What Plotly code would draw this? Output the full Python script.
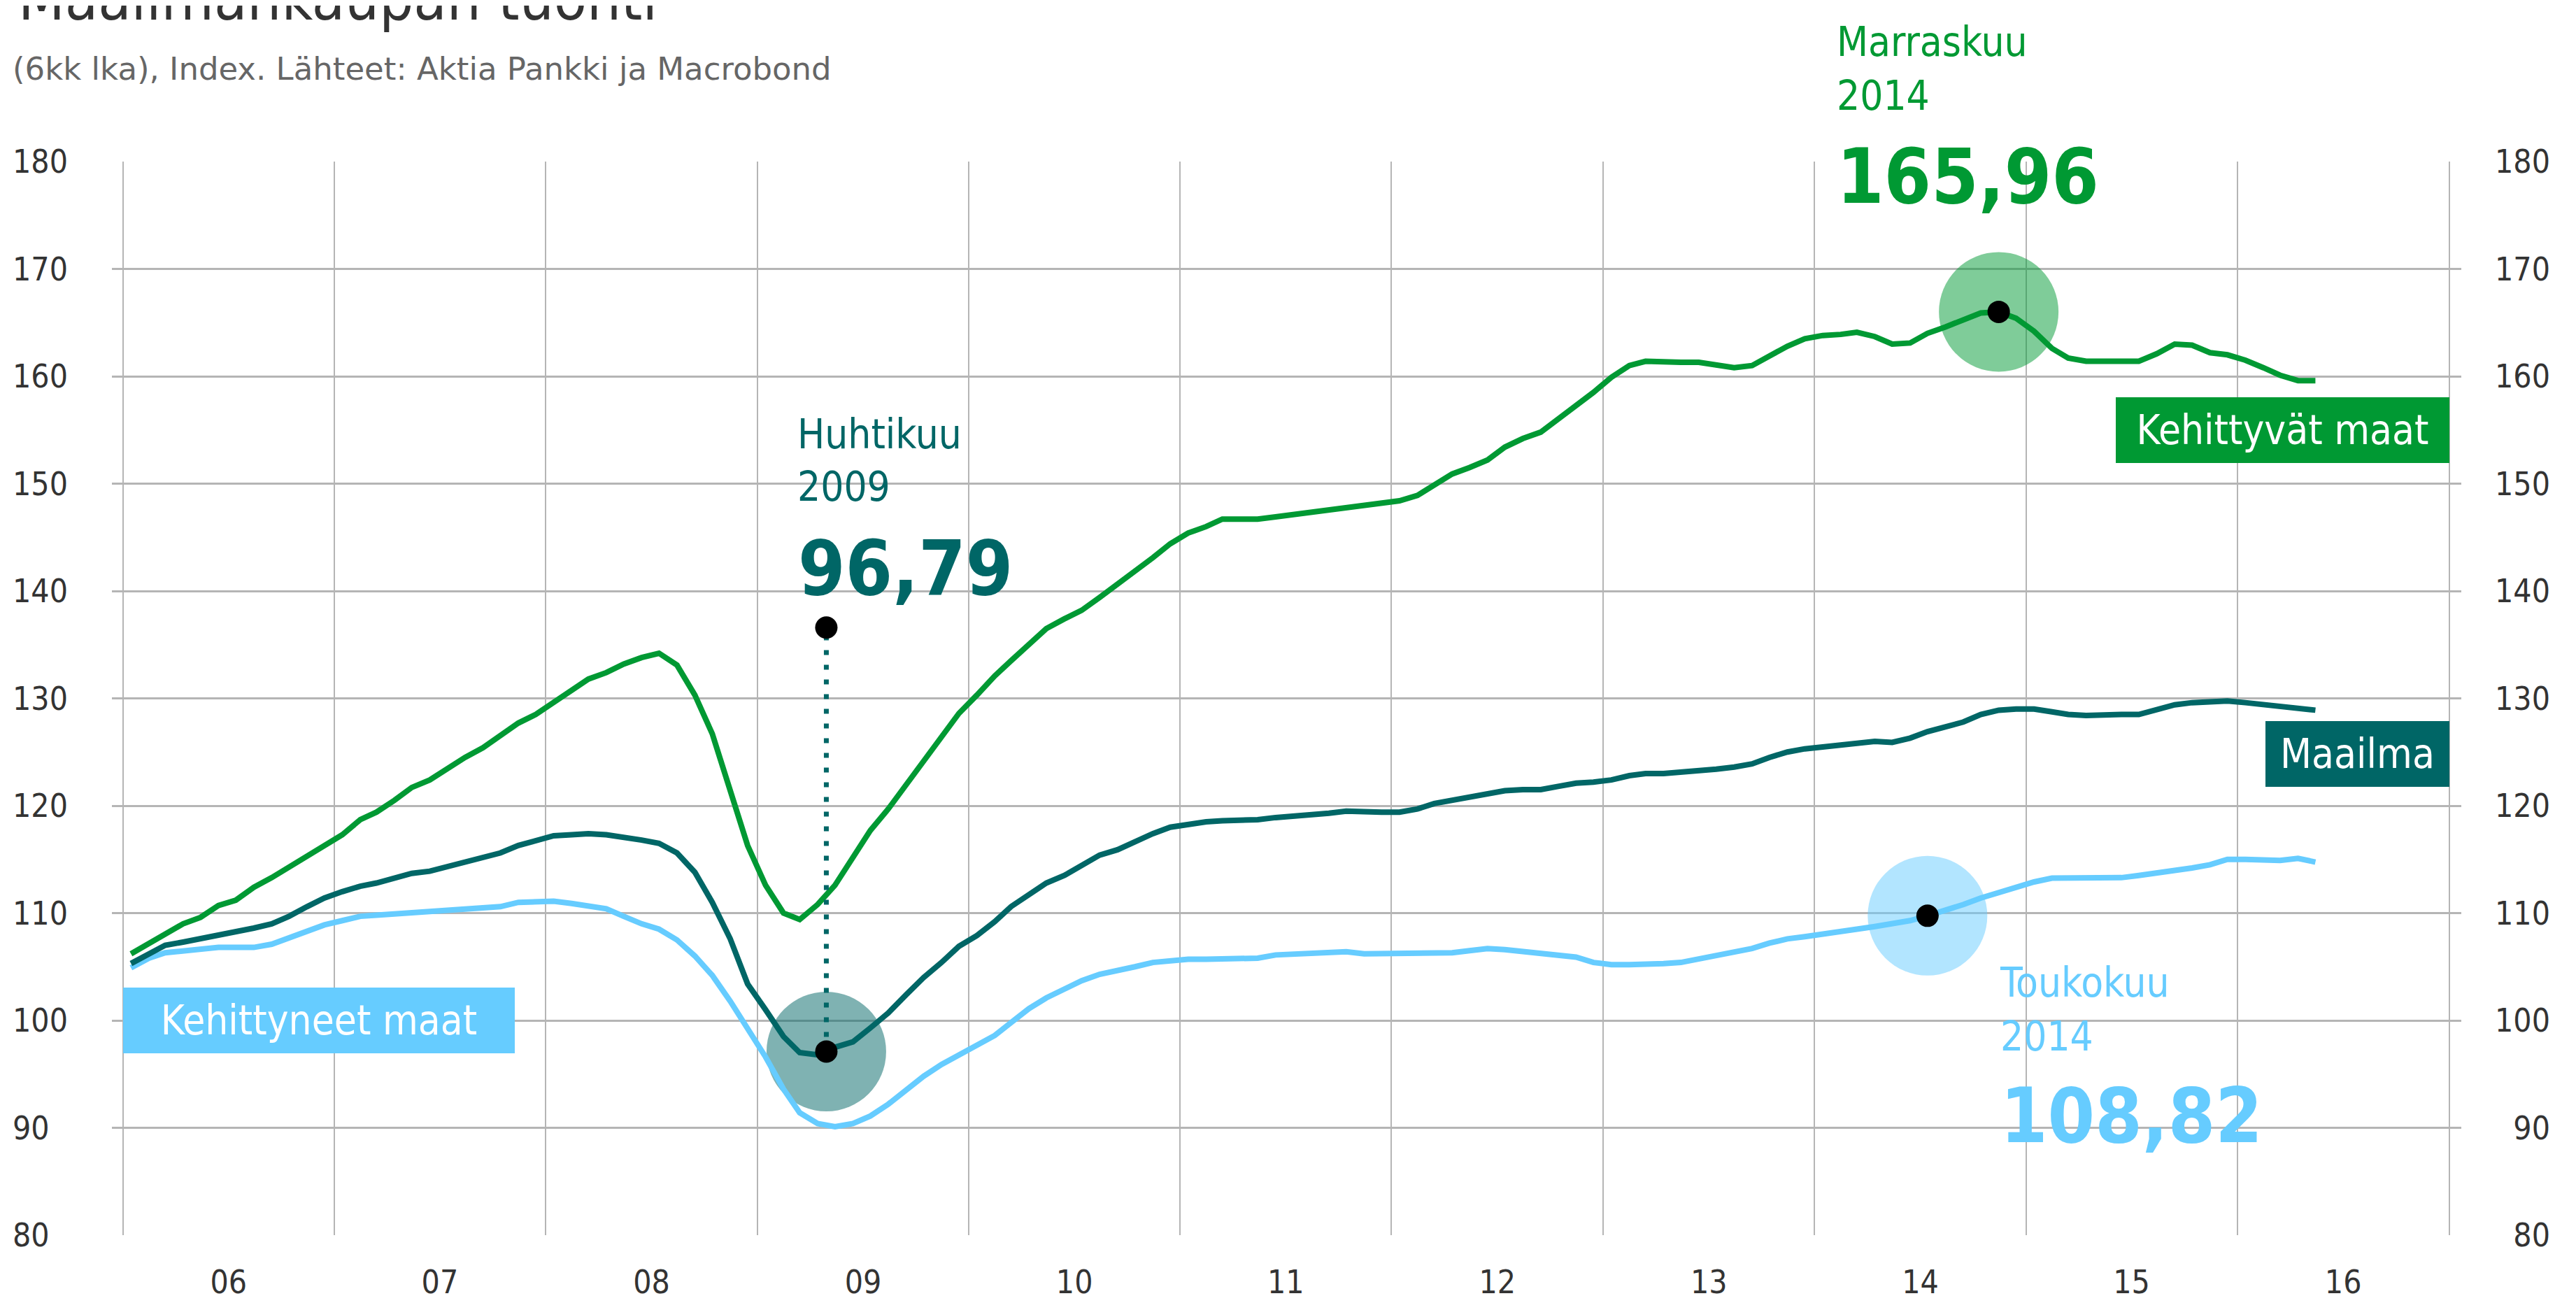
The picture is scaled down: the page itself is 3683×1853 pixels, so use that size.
import plotly.graph_objects as go
import pandas as pd

# monthly index values, Jan 2006 - May 2016 (6 month moving average)
months = pd.date_range("2006-01-01", periods=125, freq="MS") + pd.Timedelta(days=14)

kehittyvat = [
    106.2, 107.2, 108.0, 109.0, 109.6, 110.7, 111.2, 112.4, 113.3, 114.3, 115.4, 116.3,
    117.3, 118.7, 119.4, 120.5, 121.7, 122.4, 123.5, 124.5, 125.4, 126.5, 127.7, 128.5,
    129.6, 130.8, 131.8, 132.4, 133.2, 133.8, 134.2, 133.1, 130.3, 126.7, 121.3, 116.3,
    112.6, 110.0, 109.4, 110.8, 112.6, 115.1, 117.7, 119.7, 122.0, 124.2, 126.4, 128.6,
    130.3, 132.1, 133.5, 135.1, 136.5, 137.4, 138.2, 139.4, 140.6, 141.9, 143.1, 144.4,
    145.4, 146.0, 146.7, 146.7, 146.7, 146.9, 147.1, 147.4, 147.5, 147.8, 148.0, 148.2,
    148.4, 148.9, 149.9, 150.9, 151.5, 152.2, 153.4, 154.2, 154.8, 156.0, 157.4, 158.5,
    159.9, 161.0, 161.4, 161.3, 161.3, 161.3, 161.0, 160.8, 161.0, 161.9, 162.8, 163.5,
    163.8, 163.9, 164.1, 163.7, 163.0, 163.1, 164.0, 164.6, 165.3, 165.9, 166.0, 165.4,
    164.2, 162.6, 161.7, 161.4, 161.4, 161.4, 161.4, 162.1, 163.0, 162.9, 162.2, 162.0,
    161.5, 160.8, 160.1, 159.6, 159.6,
]

maailma = [
    105.3, 106.2, 107.0, 107.3, 107.6, 107.9, 108.3, 108.6, 109.0, 109.7, 110.6, 111.4,
    112.0, 112.5, 112.8, 113.2, 113.7, 113.9, 114.3, 114.7, 115.1, 115.6, 116.3, 116.8,
    117.2, 117.3, 117.4, 117.3, 117.1, 116.8, 116.5, 115.6, 113.8, 111.0, 107.6, 103.4,
    101.0, 98.5, 97.0, 96.8, 97.5, 98.0, 99.3, 100.7, 102.4, 104.0, 105.4, 106.9,
    107.9, 109.2, 110.6, 111.7, 112.8, 113.5, 114.4, 115.4, 115.9, 116.7, 117.4, 118.0,
    118.3, 118.5, 118.6, 118.6, 118.7, 118.9, 119.0, 119.2, 119.3, 119.5, 119.4, 119.4,
    119.4, 119.7, 120.2, 120.5, 120.8, 121.1, 121.4, 121.5, 121.5, 121.8, 122.1, 122.2,
    122.4, 122.8, 123.0, 123.0, 123.1, 123.3, 123.4, 123.6, 123.9, 124.5, 125.0, 125.3,
    125.5, 125.7, 125.9, 126.0, 125.9, 126.3, 126.9, 127.3, 127.8, 128.5, 128.9, 129.0,
    129.0, 128.75, 128.5, 128.4, 128.5, 128.5, 128.5, 129.0, 129.4, 129.6, 129.7, 129.75,
    129.6, 129.4, 129.2, 129.1, 128.9,
]

kehittyneet = [
    104.9, 105.8, 106.3, 106.5, 106.6, 106.8, 106.8, 106.8, 107.1, 107.7, 108.3, 108.9,
    109.3, 109.7, 109.8, 109.9, 110.0, 110.1, 110.2, 110.4, 110.4, 110.6, 111.0, 111.1,
    111.1, 110.9, 110.7, 110.4, 109.7, 109.0, 108.5, 107.5, 106.0, 104.2, 101.8, 99.3,
    96.6, 93.6, 91.4, 90.4, 90.1, 90.4, 91.1, 92.2, 93.6, 94.8, 95.9, 96.8,
    97.6, 98.6, 99.8, 101.1, 102.1, 102.9, 103.7, 104.3, 104.6, 105.0, 105.4, 105.6,
    105.7, 105.7, 105.7, 105.7, 105.8, 106.1, 106.2, 106.3, 106.4, 106.4, 106.2, 106.2,
    106.2, 106.2, 106.2, 106.3, 106.5, 106.7, 106.6, 106.4, 106.2, 106.1, 105.9, 105.4,
    105.2, 105.2, 105.2, 105.3, 105.4, 105.7, 106.1, 106.4, 106.7, 107.2, 107.6, 107.8,
    108.0, 108.2, 108.5, 108.75, 109.0, 109.3, 109.75, 110.25, 110.8, 111.4, 111.9, 112.4,
    112.9, 113.25, 113.25, 113.2, 113.25, 113.3, 113.5, 113.7, 113.9, 114.2, 114.5, 115.0,
    115.0, 114.9, 114.9, 115.1, 114.75,
]

y_ticks = [80, 90, 100, 110, 120, 130, 140, 150, 160, 170, 180]

# highlighted points: Huhtikuu 2009 (Maailma), Marraskuu 2014, Toukokuu 2014
hl_dates = ["2009-04-30", "2014-11-15", "2014-07-15"]
hl_values = [97.1, 166.0, 109.75]
pin_top = 136.6

GREEN = "#009933"
TEAL = "#006666"
BLUE = "#66ccff"
FONT = "DejaVu Sans Condensed, DejaVu Sans, sans-serif"
halo_colors = ["rgba(0,102,102,0.5)", "rgba(0,153,51,0.5)", "rgba(102,204,255,0.5)"]

# plot area in pixels, used to place texts outside it
PL, PT, PW, PH = 152, 223, 3359, 1535

fig = go.Figure()

# halos under the lines
fig.add_trace(go.Scatter(x=hl_dates, y=hl_values, mode="markers",
                         marker=dict(size=171, color=halo_colors, line=dict(width=0)),
                         hoverinfo="skip"))

for name, vals, col in [("Kehittyneet maat", kehittyneet, BLUE),
                        ("Maailma", maailma, TEAL),
                        ("Kehittyvät maat", kehittyvat, GREEN)]:
    fig.add_trace(go.Scatter(x=months, y=vals, mode="lines", name=name,
                             line=dict(color=col, width=8)))

# dotted pin for the 2009 low
fig.add_trace(go.Scatter(x=[hl_dates[0], hl_dates[0]], y=[hl_values[0], pin_top],
                         mode="lines", line=dict(color=TEAL, width=7, dash="7px,14px"),
                         hoverinfo="skip"))
fig.add_trace(go.Scatter(x=hl_dates + [hl_dates[0]], y=hl_values + [pin_top],
                         mode="markers", marker=dict(size=32, color="black"),
                         hoverinfo="skip"))
# empty trace to carry the right hand axis
fig.add_trace(go.Scatter(x=[], y=[], yaxis="y2", hoverinfo="skip"))

annotations = []


def text(x, y, s, color, size, bold=False, yref="y"):
    annotations.append(dict(x=x, y=y, xref="x", yref=yref, text=s, showarrow=False,
                            xanchor="left", yanchor="middle", align="left",
                            font=dict(family=FONT, size=size, color=color,
                                      weight="bold" if bold else "normal")))


def py(pix):
    # pixel row -> paper y
    return (PT + PH - pix) / PH


text("2014-02-06", py(52), "Marraskuu", GREEN, 58, yref="paper")
text("2014-02-06", py(129), "2014", GREEN, 58, yref="paper")
text("2014-02-06", 178.6, "165,96", GREEN, 108, True)

text("2009-03-08", 154.6, "Huhtikuu", TEAL, 58)
text("2009-03-08", 149.7, "2009", TEAL, 58)
text("2009-03-10", 142.15, "96,79", TEAL, 108, True)

text("2014-11-14", 103.55, "Toukokuu", BLUE, 58)
text("2014-11-16", 98.5, "2014", BLUE, 58)
text("2014-11-16", 91.1, "108,82", BLUE, 108, True)


def tag(x, y, s, color, width, anchor):
    annotations.append(dict(x=x, y=y, xref="x", yref="y", text=s, showarrow=False,
                            xanchor=anchor, yanchor="middle", align="center",
                            bgcolor=color, borderpad=10, borderwidth=0,
                            width=width, height=74,
                            font=dict(family=FONT, size=58, color="white")))


tag("2006-01-01", 100, "Kehittyneet maat", BLUE, 540, "left")
tag("2017-01-01", 155, "Kehittyvät maat", GREEN, 457, "right")
tag("2017-01-01", 124.8, "Maailma", TEAL, 243, "right")

# title (cut at the top edge) and source line
annotations.append(dict(x=(16 - PL) / PW, y=py(42), xref="paper", yref="paper",
                        text="Maailmankaupan tuonti", showarrow=False, xanchor="left",
                        yanchor="bottom", font=dict(family=FONT, size=86, color="#333333")))
annotations.append(dict(x=(8 - PL) / PW, y=py(90), xref="paper", yref="paper",
                        text="(6kk lka), Index. Lähteet: Aktia Pankki ja Macrobond", showarrow=False,
                        xanchor="left", yanchor="middle",
                        font=dict(family="DejaVu Sans, sans-serif", size=45, color="#666666")))

grid = "#b5b5b5"
tickfont = dict(family=FONT, size=46, color="#333333")

fig.update_layout(
    width=3683, height=1853,
    margin=dict(l=PL, r=3683 - PL - PW, t=PT, b=1853 - PT - PH, autoexpand=False),
    paper_bgcolor="white", plot_bgcolor="white",
    showlegend=False,
    xaxis=dict(type="date", range=["2005-12-13", "2017-01-22"],
               tick0="2006-01-01", dtick="M12", tickformat="%y", ticklabelmode="period",
               showgrid=True, gridcolor=grid, gridwidth=2, zeroline=False, showline=False,
               ticks="", tickfont=tickfont, ticklabelstandoff=36),
    yaxis=dict(range=[80, 180], tickvals=y_ticks, showgrid=True, gridcolor=grid, gridwidth=2.5,
               zeroline=False, showline=False, ticks="", tickfont=tickfont,
               ticklabelposition="inside", ticklabelstandoff=-145, ticklabeloverflow="allow"),
    yaxis2=dict(range=[80, 180], tickvals=y_ticks, overlaying="y", side="right", showgrid=False,
                zeroline=False, showline=False, ticks="", tickfont=tickfont,
                ticklabelposition="inside", ticklabelstandoff=-130, ticklabeloverflow="allow"),
    annotations=annotations,
)

fig.write_html("out.html")
